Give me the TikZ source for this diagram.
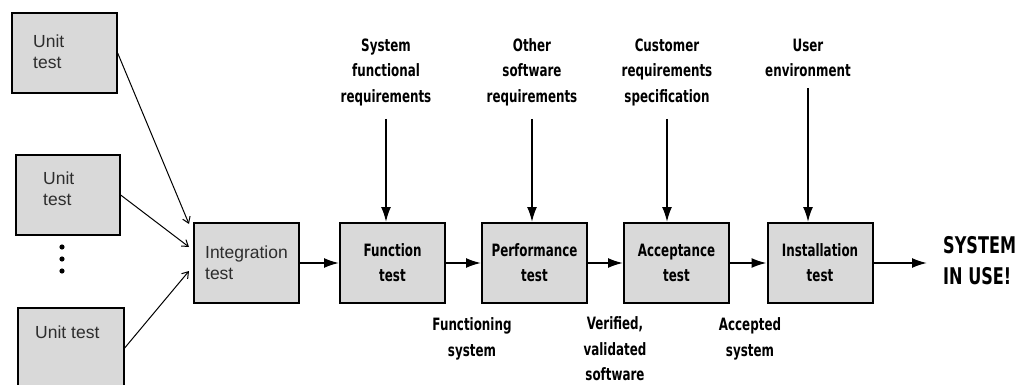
\documentclass[tikz,border=0pt]{standalone}
\usepackage{fontspec}
\usetikzlibrary{arrows.meta}
\setmainfont{Liberation Sans}
\newfontfamily\hand[FakeStretch=0.7]{DejaVu Sans}
\definecolor{boxgray}{RGB}{217,217,217}
\definecolor{plaintext}{RGB}{45,45,45}
\tikzset{
  stagebox/.style={draw, line width=2pt, fill=boxgray, minimum width=105pt,
    minimum height=80pt, inner sep=0pt, align=center,
    font=\hand\bfseries\fontsize{17}{25}\selectfont},
  unitbox/.style={draw, line width=1.3pt, fill=boxgray, minimum width=105pt,
    minimum height=80pt, inner sep=0pt},
  unitlabel/.style={text=plaintext, align=left, inner sep=0pt,
    font=\fontsize{17.5}{21}\selectfont},
  handlabel/.style={align=center, inner sep=0pt,
    font=\hand\bfseries\fontsize{17}{25.5}\selectfont},
  flow/.style={-{Latex[length=15pt,width=10pt]}, line width=1.8pt},
  feed/.style={-{Straight Barb[length=6pt,width=8pt]}, line width=1pt},
}
\begin{document}
\begin{tikzpicture}[x=1pt,y=-1pt]
\useasboundingbox (0,0) rectangle (1025,385);
\clip (0,0) rectangle (1025,385);

% unit tests feeding the integration step
\node[unitbox] (u1) at (64.5,53) {};
\node[unitbox, minimum width=104pt] (u2) at (68,195) {};
\node[unitbox, minimum width=106pt] (u3) at (71,348) {};
\node[unitlabel, anchor=west] (u1t) at (33,52) {Unit\\test};
\node[unitlabel, anchor=west] (u2t) at (43,188.5) {Unit\\test};
\node[unitlabel, anchor=west] (u3t) at (35,332) {Unit test};
\foreach \yy [count=\k] in {247,259,271}
  \fill (62,\yy) circle (2.6pt);

% test stages
\node[stagebox, font=\fontsize{17.5}{21}\selectfont, text=plaintext, align=left]
  (integ) at (246.5,263) {Integration\\test};
\node[stagebox] (func) at (392.5,263) {Function\\test};
\node[stagebox] (perf) at (534.5,263) {Performance\\test};
\node[stagebox] (acc)  at (676.5,263) {Acceptance\\test};
\node[stagebox] (inst) at (820,263)   {Installation\\test};
\node[anchor=west, inner xsep=0pt, inner ysep=0pt, align=left,
  font=\hand\bfseries\fontsize{23}{31}\selectfont] (sys) at (943,261)
  {SYSTEM\\IN USE!};
\coordinate (sysin) at (927,263);

% inputs from above
\node[handlabel] (req1) at (386,72)  {System\\functional\\requirements};
\node[handlabel] (req2) at (532,72)  {Other\\software\\requirements};
\node[handlabel] (req3) at (667,72)  {Customer\\requirements\\specification};
\node[handlabel] (req4) at (808,58)  {User\\environment};

% outputs below
\node[handlabel] (out1) at (472,339) {Functioning\\system};
\node[handlabel] (out2) at (615,349) {Verified,\\validated\\software};
\node[handlabel] (out3) at (750,339) {Accepted\\system};

% connectors
\draw[feed] (u1.east) -- ([xshift=-4pt,yshift=39pt]integ.west);
\draw[feed] (u2.east) -- ([xshift=-4pt,yshift=16pt]integ.west);
\draw[feed] (u3.east) -- ([xshift=-4pt,yshift=-8pt]integ.west);

\draw[flow] (integ.east) -- (func.west);
\draw[flow] (func.east) -- (perf.west);
\draw[flow] (perf.east) -- (acc.west);
\draw[flow] (acc.east) -- (inst.west);
\draw[flow] (inst.east) -- (sysin);

\draw[flow] ([yshift=-13pt]req1.south) -- (req1.south |- func.north);
\draw[flow] ([yshift=-13pt]req2.south) -- (req2.south |- perf.north);
\draw[flow] ([yshift=-13pt]req3.south) -- (req3.south |- acc.north);
\draw[flow] ([yshift=-11pt]req4.south) -- (req4.south |- inst.north);
\end{tikzpicture}
\end{document}
